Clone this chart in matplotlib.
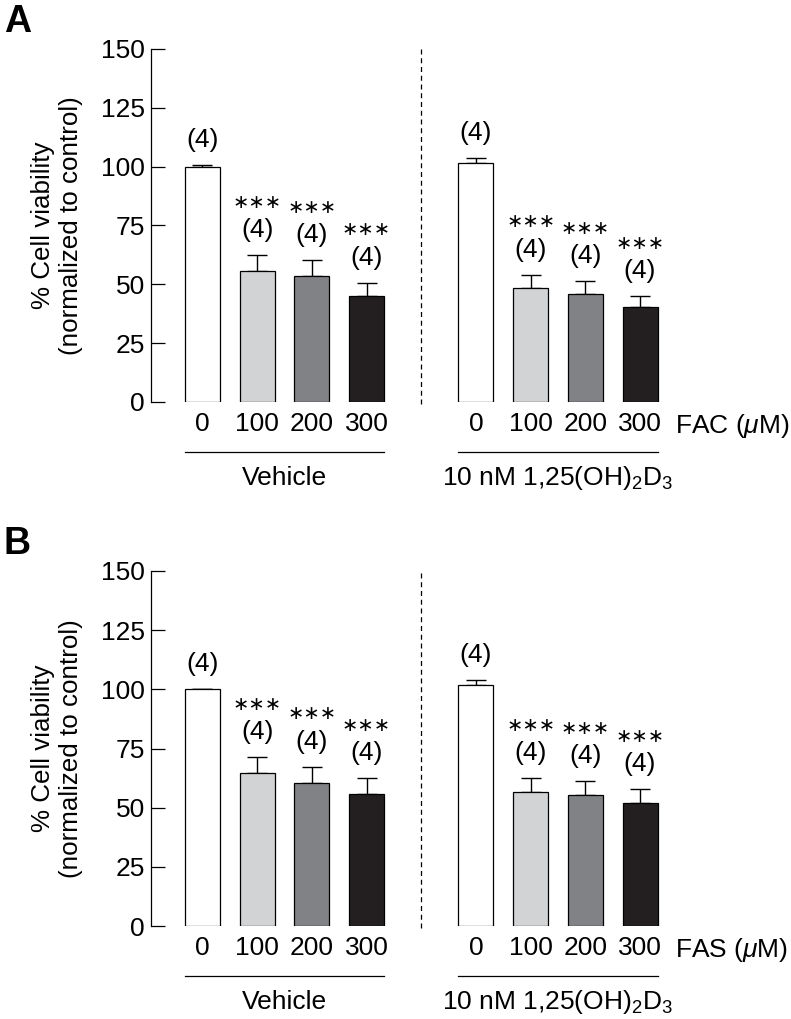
import numpy as np
import matplotlib.pyplot as plt

plt.rcParams['font.family'] = ['Liberation Sans', 'DejaVu Sans']
plt.rcParams['mathtext.fontset'] = 'custom'
plt.rcParams['mathtext.rm'] = 'Liberation Sans'
plt.rcParams['mathtext.it'] = 'Liberation Sans:italic'

doses = ['0', '100', '200', '300']
groups = ['Vehicle', '10 nM 1,25(OH)$_2$D$_3$']

# panel A (FAC): vehicle then vitamin D, mean and SEM
a_vehicle = [100.0, 55.6, 53.4, 44.9]
a_vehicle_err = [0.8, 6.7, 6.9, 5.8]
a_vitd = [101.6, 48.4, 45.7, 40.2]
a_vitd_err = [1.9, 5.7, 5.7, 4.8]

# panel B (FAS)
b_vehicle = [100.0, 64.8, 60.6, 55.9]
b_vehicle_err = [0.3, 6.6, 6.6, 6.5]
b_vitd = [101.8, 56.7, 55.2, 52.1]
b_vitd_err = [2.0, 5.8, 6.0, 5.6]

n_label = ['(4)', '(4)', '(4)', '(4)']
stars = ['', '***', '***', '***']

colors = ['white', '#d1d3d4', '#808285', '#231f20']

fs = 19

fig = plt.figure(figsize=(7.91, 10.19), dpi=100)

W = 791
H = 1019
panels = [
    ('A', 'FAC', [a_vehicle, a_vitd], [a_vehicle_err, a_vitd_err], 49, 402),
    ('B', 'FAS', [b_vehicle, b_vitd], [b_vehicle_err, b_vitd_err], 571, 926),
]

for letter, salt, means, errs, ytop, ybot in panels:
    ax = fig.add_axes([151 / W, 1 - ybot / H, 549 / W, (ybot - ytop) / H])
    bw = 0.64
    for g, start in enumerate([0, 5]):
        x = np.arange(4) + start
        ax.bar(x, means[g], width=bw, color=colors, edgecolor='black', linewidth=0.9, zorder=2)
        ax.errorbar(x, means[g], yerr=[np.zeros(4), errs[g]], fmt='none', ecolor='black',
                    elinewidth=1.0, capsize=7, capthick=1.0, zorder=1)
        for i in range(4):
            top = means[g][i] + errs[g][i]
            ax.annotate(n_label[i], (x[i], top), xytext=(0, 25), textcoords='offset pixels',
                        ha='center', va='center', fontsize=fs)
            if stars[i]:
                ax.annotate('\u2217\u2217\u2217', (x[i], top), xytext=(0, 53), textcoords='offset pixels',
                            ha='center', va='center', fontsize=14, family='DejaVu Sans')
        # group bracket line and label
        ax.plot([start - bw / 2, start + 3 + bw / 2], [-0.1416, -0.1416], color='black', lw=0.9,
                transform=ax.get_xaxis_transform(), clip_on=False)
        ax.text(start + 1.5, -0.215, groups[g], transform=ax.get_xaxis_transform(),
                ha='center', va='center', fontsize=fs)

    ax.axvline(4, color='black', lw=0.9, ls=(0, (4, 3)), ymin=-0.005, ymax=1.0, clip_on=False)

    ax.set_xlim(-0.941, 9.096)
    ax.set_ylim(0, 150)
    ax.set_yticks([0, 25, 50, 75, 100, 125, 150])
    ax.set_xticks([0, 1, 2, 3, 5, 6, 7, 8])
    ax.set_xticklabels(doses + doses)
    ax.tick_params(axis='x', length=0, pad=7, labelsize=fs)
    ax.tick_params(axis='y', direction='in', length=10, width=0.9, pad=4.5, labelsize=fs)
    for s in ['top', 'right', 'bottom']:
        ax.spines[s].set_visible(False)
    ax.spines['left'].set_linewidth(0.9)
    ax.annotate(salt + r' ($\mathit{\mu}$M)', (8.64, 0), xycoords=('data', 'axes fraction'),
                xytext=(0, -10), textcoords='offset pixels', ha='left', va='top', fontsize=fs)
    ax.set_ylabel('% Cell viability\n(normalized to control)', fontsize=18.7)
    ax.yaxis.set_label_coords(-0.124, 0.5)

    fig.text(4 / W, 1 - (ytop - 17) / H, letter, fontsize=27, fontweight='bold', va='baseline')

fig.savefig('out.png', dpi=100)
